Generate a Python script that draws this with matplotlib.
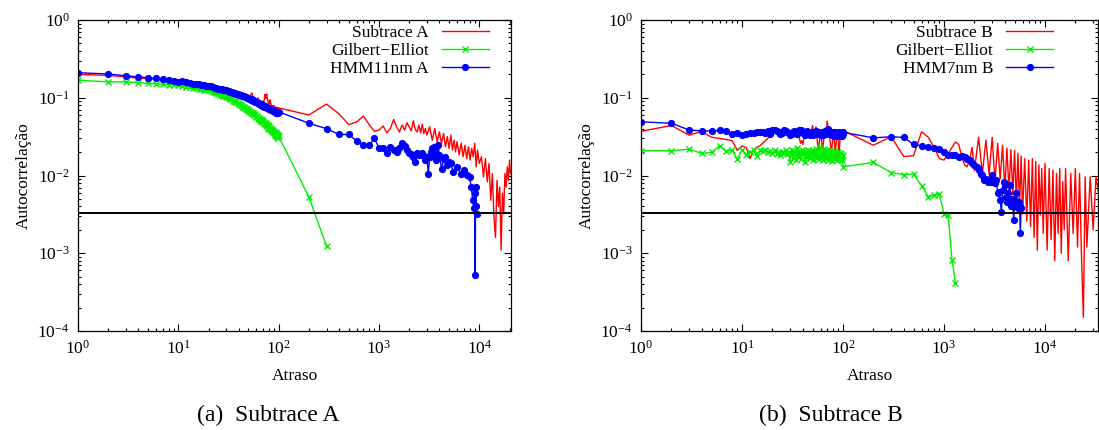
import matplotlib
matplotlib.use("Agg")
import matplotlib.pyplot as plt

plt.rcParams["font.family"] = ["Liberation Serif", "DejaVu Serif"]
plt.rcParams["mathtext.fontset"] = "stix"

# lags 1..100 are shared by every series, the tails are listed per series
short_lags = list(range(1, 101))

# ---------------- (a) Subtrace A ----------------
redA_short = [
    0.200, 0.194, 0.186, 0.178, 0.176, 0.172, 0.168, 0.165, 0.160, 0.157,
    0.158, 0.155, 0.152, 0.150, 0.147, 0.146, 0.144, 0.142, 0.140, 0.139,
    0.137, 0.135, 0.133, 0.136, 0.138, 0.133, 0.128, 0.126, 0.124, 0.122,
    0.121, 0.119, 0.118, 0.117, 0.115, 0.114, 0.112, 0.111, 0.110, 0.108,
    0.107, 0.106, 0.105, 0.103, 0.102, 0.101, 0.100, 0.099, 0.098, 0.097,
    0.099, 0.104, 0.110, 0.115, 0.106, 0.098, 0.094, 0.093, 0.091, 0.090,
    0.095, 0.100, 0.094, 0.089, 0.087, 0.086, 0.085, 0.084, 0.086, 0.090,
    0.085, 0.098, 0.110, 0.098, 0.106, 0.112, 0.100, 0.092, 0.086, 0.083,
    0.088, 0.094, 0.087, 0.082, 0.080, 0.079, 0.078, 0.077, 0.080, 0.078,
    0.076, 0.075, 0.074, 0.076, 0.074, 0.073, 0.075, 0.074, 0.073, 0.074,
]
redA_tail_lags = [
    200, 300, 400, 500, 600, 700, 800, 900, 1000,
    1100, 1200, 1300, 1400, 1500, 1600, 1700, 1800, 1900, 2000,
    2100, 2200, 2300, 2400, 2500, 2600, 2700, 2800, 2900, 3000,
    3200, 3400, 3600, 3800, 4000, 4200, 4400, 4600, 4800, 5000,
    5200, 5400, 5600, 5800, 6000, 6300, 6600, 6900, 7200, 7500,
    7800, 8100, 8400, 8700, 9000, 9300, 9600, 10000, 10500, 11000,
    11500, 12000, 12500, 13000, 13500, 14000, 14500, 15000, 15500, 16000,
    16500, 17000, 17500, 18000, 18500, 19000, 19500, 20000, 20500,
]
redA_tail = [
    0.060, 0.083, 0.062, 0.045, 0.049, 0.058, 0.045, 0.037, 0.0384,
    0.0433, 0.0354, 0.0402, 0.0526, 0.0423, 0.0363, 0.0445, 0.0384, 0.0477, 0.0423,
    0.0376, 0.0506, 0.0391, 0.0363, 0.0445, 0.0354, 0.0458, 0.0347, 0.0402, 0.0331,
    0.0423, 0.0285, 0.0402, 0.0272, 0.0363, 0.0260, 0.0347, 0.0234, 0.0316, 0.0223,
    0.0331, 0.0212, 0.0285, 0.0202, 0.0272, 0.0183, 0.0260, 0.0174, 0.0245, 0.0165,
    0.0234, 0.0158, 0.0223, 0.0174, 0.0260, 0.0129, 0.0212, 0.0143, 0.0174, 0.0096,
    0.0165, 0.0083, 0.0143, 0.0048, 0.0106, 0.0029, 0.0016, 0.0087, 0.0040, 0.0071,
    0.0011, 0.0059, 0.0032, 0.0106, 0.0071, 0.0129, 0.0087, 0.0158, 0.0106,
]

greenA_short = [
    0.168, 0.160, 0.160, 0.157, 0.153, 0.151, 0.149, 0.147, 0.146, 0.144,
    0.141, 0.139, 0.137, 0.135, 0.133, 0.131, 0.129, 0.127, 0.126, 0.124,
    0.122, 0.119, 0.117, 0.115, 0.113, 0.110, 0.109, 0.106, 0.105, 0.103,
    0.101, 0.099, 0.096, 0.095, 0.092, 0.091, 0.088, 0.087, 0.085, 0.083,
    0.082, 0.080, 0.078, 0.077, 0.075, 0.074, 0.072, 0.071, 0.069, 0.070,
    0.067, 0.066, 0.065, 0.063, 0.064, 0.061, 0.060, 0.061, 0.058, 0.057,
    0.058, 0.055, 0.054, 0.055, 0.052, 0.053, 0.050, 0.051, 0.049, 0.050,
    0.047, 0.048, 0.046, 0.047, 0.044, 0.045, 0.043, 0.044, 0.041, 0.043,
    0.040, 0.041, 0.039, 0.040, 0.037, 0.039, 0.036, 0.038, 0.035, 0.036,
    0.034, 0.036, 0.033, 0.035, 0.032, 0.034, 0.031, 0.033, 0.030, 0.032,
]
greenA_tail_lags = [200, 300]
greenA_tail = [0.0053, 0.00124]

blueA_short = [
    0.210, 0.202, 0.192, 0.185, 0.181, 0.177, 0.172, 0.169, 0.163, 0.160,
    0.162, 0.158, 0.155, 0.152, 0.150, 0.149, 0.146, 0.145, 0.143, 0.141,
    0.140, 0.137, 0.134, 0.133, 0.131, 0.130, 0.128, 0.127, 0.126, 0.124,
    0.122, 0.121, 0.119, 0.118, 0.116, 0.115, 0.114, 0.112, 0.111, 0.110,
    0.108, 0.107, 0.106, 0.105, 0.104, 0.102, 0.101, 0.100, 0.099, 0.098,
    0.097, 0.096, 0.094, 0.095, 0.093, 0.091, 0.092, 0.089, 0.088, 0.087,
    0.088, 0.085, 0.084, 0.085, 0.083, 0.082, 0.080, 0.081, 0.079, 0.080,
    0.078, 0.077, 0.078, 0.076, 0.075, 0.076, 0.074, 0.073, 0.074, 0.072,
    0.071, 0.072, 0.070, 0.071, 0.069, 0.070, 0.068, 0.069, 0.067, 0.068,
    0.066, 0.067, 0.065, 0.066, 0.064, 0.065, 0.063, 0.066, 0.064, 0.066,
]
blueA_tail_lags = [
    200, 300, 400, 500, 600, 700, 800, 900, 1000, 1100,
    1200, 1300, 1400, 1500, 1600, 1700, 1800, 1900, 2000, 2100,
    2200, 2300, 2400, 2500, 2600, 2700, 2800, 2900, 3000, 3100,
    3200, 3300, 3400, 3500, 3600, 3700, 3800, 3900, 4000, 4200,
    4400, 4600, 4800, 5000, 5200, 5500, 6000, 6500, 7000, 7500,
    8000, 8300, 8600, 8800, 9000, 9100, 9200, 9300, 9400,
]
blueA_tail = [
    0.047, 0.040, 0.0337, 0.0337, 0.0277, 0.025, 0.0245, 0.030, 0.0226, 0.0223,
    0.0196, 0.0235, 0.0212, 0.0202, 0.0223, 0.0258, 0.0239, 0.0212, 0.0192, 0.0188,
    0.0174, 0.0150, 0.0192, 0.0183, 0.0188, 0.0196, 0.0177, 0.0158, 0.0174, 0.0106,
    0.0174, 0.0202, 0.0223, 0.0234, 0.0192, 0.0158, 0.0174, 0.0245, 0.0183, 0.0123,
    0.0161, 0.0174, 0.0136, 0.0150, 0.0143, 0.0111, 0.0129, 0.0106, 0.0117, 0.0101,
    0.0096, 0.0071, 0.0048, 0.0038, 0.0059, 0.00052, 0.0071, 0.0040, 0.0032,
]

# ---------------- (b) Subtrace B ----------------
redB_short = [
    0.037, 0.044, 0.033, 0.037, 0.031, 0.030, 0.029, 0.028, 0.021, 0.024,
    0.023, 0.0165, 0.021, 0.023, 0.024, 0.026, 0.028, 0.030, 0.032, 0.034,
    0.036, 0.037, 0.034, 0.039, 0.036, 0.034, 0.036, 0.035, 0.033, 0.035,
    0.034, 0.036, 0.035, 0.034, 0.036, 0.035, 0.030, 0.026, 0.028, 0.025,
    0.030, 0.034, 0.036, 0.035, 0.034, 0.036, 0.035, 0.037, 0.038, 0.044,
    0.036, 0.034, 0.037, 0.042, 0.033, 0.026, 0.022, 0.025, 0.030, 0.034,
    0.035, 0.023, 0.021, 0.026, 0.033, 0.036, 0.034, 0.035, 0.040, 0.050,
    0.038, 0.034, 0.035, 0.030, 0.026, 0.022, 0.020, 0.024, 0.030, 0.035,
    0.034, 0.028, 0.023, 0.021, 0.024, 0.030, 0.034, 0.035, 0.033, 0.025,
    0.019, 0.021, 0.027, 0.033, 0.036, 0.034, 0.035, 0.037, 0.036, 0.038,
]
redB_tail_lags = [
    200, 300, 400, 500, 600, 700, 800, 900, 1000, 1100,
    1200, 1300, 1400, 1500, 1600, 1700, 1800, 1900, 2000, 2200,
    2400, 2600, 2800, 3000, 3200, 3400, 3600, 3800, 4000, 4200,
    4400, 4600, 4800, 5000, 5200, 5400, 5600, 5800, 6000, 6300,
    6600, 6900, 7200, 7500, 7800, 8100, 8400, 8700, 9000, 9300,
    9600, 10000, 10500, 11000, 11500, 12000, 12500, 13000, 13500, 14000,
    14500, 15000, 15500, 16000, 17000, 18000, 19000, 20000, 21000, 22000,
    23000, 24000, 25000, 26000, 28000, 30000, 32000, 34000,
]
redB_tail = [
    0.0245, 0.0315, 0.0175, 0.0180, 0.0365, 0.031, 0.0228, 0.0165, 0.0158, 0.019,
    0.023, 0.027, 0.025, 0.0175, 0.0136, 0.013, 0.0165, 0.023, 0.0115, 0.031,
    0.0106, 0.0285, 0.0103, 0.031, 0.0083, 0.026, 0.0091, 0.0245, 0.0068, 0.0225,
    0.0063, 0.0215, 0.0057, 0.021, 0.0047, 0.0193, 0.0039, 0.0178, 0.0032, 0.0165,
    0.0026, 0.0158, 0.0022, 0.0165, 0.0016, 0.0151, 0.0011, 0.0137, 0.0031, 0.0123,
    0.0018, 0.0143, 0.0011, 0.0123, 0.0015, 0.0117, 0.0008, 0.0106, 0.0018, 0.0123,
    0.0010, 0.0083, 0.0020, 0.0123, 0.0008, 0.0106, 0.0018, 0.0123, 0.0012, 0.0106,
    0.0009, 0.00015, 0.0096, 0.0012, 0.0096, 0.0020, 0.0096, 0.0060,
]

greenB_short = [
    0.0208, 0.0208, 0.0218, 0.0192, 0.0198, 0.0241, 0.0205, 0.0212, 0.0162, 0.0215,
    0.0185, 0.0200, 0.0212, 0.0178, 0.0210, 0.0205, 0.0212, 0.0200, 0.0208, 0.0195,
    0.0210, 0.0190, 0.0202, 0.0185, 0.0200, 0.0192, 0.0210, 0.0188, 0.0198, 0.0150,
    0.0215, 0.0170, 0.0205, 0.0160, 0.0225, 0.0180, 0.0200, 0.0165, 0.0215, 0.0190,
    0.0205, 0.0150, 0.0200, 0.0175, 0.0210, 0.0185, 0.0168, 0.0205, 0.0190, 0.0215,
    0.0160, 0.0200, 0.0180, 0.0220, 0.0170, 0.0195, 0.0205, 0.0165, 0.0230, 0.0185,
    0.0200, 0.0175, 0.0210, 0.0160, 0.0220, 0.0190, 0.0180, 0.0205, 0.0170, 0.0215,
    0.0160, 0.0195, 0.0185, 0.0165, 0.0210, 0.0180, 0.0200, 0.0155, 0.0190, 0.0175,
    0.0205, 0.0185, 0.0165, 0.0200, 0.0180, 0.0195, 0.0160, 0.0190, 0.0175, 0.0200,
    0.0185, 0.0165, 0.0195, 0.0180, 0.0170, 0.0190, 0.0175, 0.0160, 0.0185, 0.0130,
]
greenB_tail_lags = [200, 300, 400, 500, 600, 700, 800, 900, 1000, 1100, 1200, 1300]
greenB_tail = [0.0147, 0.0109, 0.0103, 0.0104, 0.0074, 0.0053, 0.0056, 0.0058,
               0.0032, 0.0031, 0.00083, 0.00041]

blueB_short = [
    0.049, 0.047, 0.0385, 0.0375, 0.0375, 0.0380, 0.0370, 0.0345, 0.0350, 0.0330,
    0.0345, 0.0355, 0.0350, 0.0360, 0.0365, 0.0360, 0.0355, 0.0370, 0.0340, 0.0380,
    0.0385, 0.0375, 0.0360, 0.0345, 0.0355, 0.0380, 0.0375, 0.0365, 0.0350, 0.0330,
    0.0345, 0.0360, 0.0375, 0.0355, 0.0340, 0.0365, 0.0385, 0.0390, 0.0375, 0.0360,
    0.0345, 0.0335, 0.0350, 0.0370, 0.0360, 0.0340, 0.0330, 0.0355, 0.0365, 0.0350,
    0.0335, 0.0345, 0.0360, 0.0375, 0.0355, 0.0340, 0.0350, 0.0365, 0.0345, 0.0330,
    0.0350, 0.0360, 0.0345, 0.0335, 0.0355, 0.0370, 0.0350, 0.0340, 0.0360, 0.0385,
    0.0395, 0.0370, 0.0350, 0.0340, 0.0355, 0.0345, 0.0330, 0.0350, 0.0365, 0.0340,
    0.0325, 0.0345, 0.0360, 0.0350, 0.0335, 0.0320, 0.0340, 0.0355, 0.0345, 0.0330,
    0.0350, 0.0365, 0.0340, 0.0325, 0.0345, 0.0355, 0.0335, 0.0320, 0.0340, 0.0360,
]
blueB_tail_lags = [
    200, 300, 400, 500, 600, 700, 800, 900, 1000, 1100,
    1200, 1300, 1400, 1500, 1600, 1700, 1800, 1900, 2000, 2100,
    2200, 2300, 2400, 2500, 2600, 2700, 2800, 2900, 3000, 3100,
    3200, 3300, 3400, 3500, 3600, 3700, 3800, 3900, 4000, 4100,
    4200, 4300, 4400, 4500, 4600, 4700, 4800, 4900, 5000, 5100,
    5200, 5300, 5400, 5500, 5600, 5700, 5800,
]
blueB_tail = [
    0.0305, 0.0315, 0.0309, 0.0251, 0.0241, 0.0234, 0.0227, 0.0218, 0.0202, 0.0183,
    0.0181, 0.0183, 0.0174, 0.0177, 0.0174, 0.0161, 0.0158, 0.0143, 0.0136, 0.0129,
    0.0117, 0.0106, 0.0101, 0.0087, 0.0091, 0.0083, 0.0087, 0.0083, 0.0101, 0.0083,
    0.0081, 0.0087, 0.0059, 0.0062, 0.0048, 0.0034, 0.0065, 0.0083, 0.0075, 0.0053,
    0.0045, 0.0059, 0.0046, 0.0075, 0.0040, 0.0050, 0.0045, 0.0027, 0.0048, 0.0040,
    0.0059, 0.0044, 0.0038, 0.0046, 0.0040, 0.0018, 0.0038,
]

conf_level = 0.00325

panels = [
    dict(rect=[78 / 1099, 99 / 430, 433 / 1099, 311 / 430], xmax=20700,
         red=(short_lags + redA_tail_lags, redA_short + redA_tail, "Subtrace A"),
         green=(short_lags + greenA_tail_lags, greenA_short + greenA_tail),
         blue=(short_lags + blueA_tail_lags, blueA_short + blueA_tail, "HMM11nm A"),
         leg_x=0.949, caption="(a)  Subtrace A", cap_x=268 / 1099),
    dict(rect=[641 / 1099, 99 / 430, 457 / 1099, 311 / 430], xmax=33500,
         red=(short_lags + redB_tail_lags, redB_short + redB_tail, "Subtrace B"),
         green=(short_lags + greenB_tail_lags, greenB_short + greenB_tail),
         blue=(short_lags + blueB_tail_lags, blueB_short + blueB_tail, "HMM7nm B"),
         leg_x=0.9015, caption="(b)  Subtrace B", cap_x=831 / 1099),
]

fig = plt.figure(figsize=(10.99, 4.30), dpi=100)

for p in panels:
    ax = fig.add_axes(p["rect"])
    ax.plot(p["red"][0], p["red"][1], color="#ff0000", lw=1.0, label=p["red"][2])
    ax.plot(p["green"][0], p["green"][1], color="#00ee00", lw=1.0, marker="x",
            ms=4.5, mew=1.0, label="Gilbert\u2212Elliot")
    ax.plot(p["blue"][0], p["blue"][1], color="#0000ff", lw=1.0, marker="o",
            ms=4.2, label=p["blue"][2])
    ax.axhline(conf_level, color="black", lw=1.4)

    ax.set_xscale("log")
    ax.set_yscale("log")
    ax.set_xlim(1, p["xmax"])
    ax.set_ylim(1e-4, 1)
    ax.tick_params(which="both", direction="in", top=True, right=True,
                   labelsize=12.5, width=0.8)
    ax.tick_params(which="major", length=5, pad=6)
    ax.tick_params(which="minor", length=2.5)
    for s in ax.spines.values():
        s.set_linewidth(0.9)
    ax.set_xlabel("Atraso", fontsize=12.5, labelpad=8)
    ax.set_ylabel("Autocorrelação", fontsize=12.5, labelpad=4)

    ax.legend(loc="upper right", bbox_to_anchor=(p["leg_x"], 0.985),
              frameon=False, markerfirst=False, fontsize=12.5,
              handlelength=2.7, handletextpad=0.75, labelspacing=0.12,
              borderpad=0, borderaxespad=0, numpoints=1)

    fig.text(p["cap_x"], 15 / 430, p["caption"], ha="center", va="center",
             fontsize=17)

fig.savefig("out.png", dpi=100)
